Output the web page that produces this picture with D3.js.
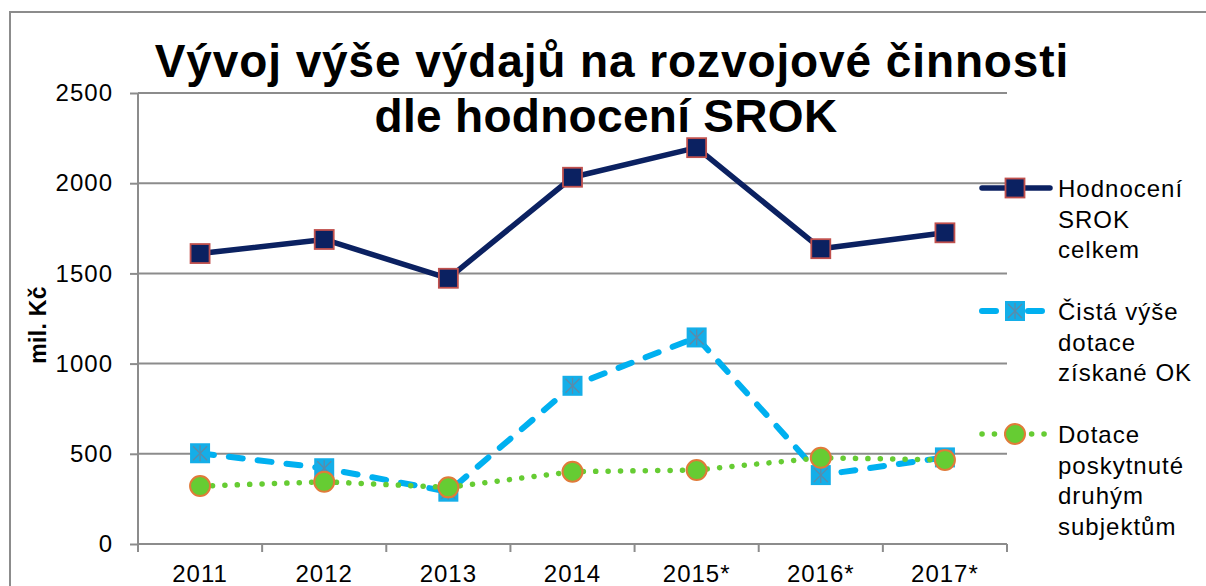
<!DOCTYPE html>
<html>
<head>
<meta charset="utf-8">
<script src="https://cdn.jsdelivr.net/npm/d3@7"></script>
<style>
  body { margin: 0; background: #fff; }
  svg { display: block; font-family: "Liberation Sans", Arial, sans-serif; }
</style>
</head>
<body>
<svg id="chart"></svg>
<script>
// data
const years = ["2011", "2012", "2013", "2014", "2015*", "2016*", "2017*"];
const srokCelkem = [1610, 1688, 1473, 2033, 2197, 1637, 1725];
const cistaDotace = [503, 420, 290, 877, 1145, 382, 480];
const dotaceDruhym = [321, 345, 314, 401, 410, 478, 466];
const yTicks = [0, 500, 1000, 1500, 2000, 2500];
const titleLines = ["Vývoj výše výdajů na rozvojové činnosti", "dle hodnocení SROK"];
const yTitle = "mil. Kč";
const legendLabels = [
  ["Hodnocení", "SROK", "celkem"],
  ["Čistá výše", "dotace", "získané OK"],
  ["Dotace", "poskytnuté", "druhým", "subjektům"]
];

const W = 1206, H = 586;
const margin = { top: 93, right: 199, bottom: 42, left: 138 };
const gridColor = "#8c8c8c";
const labelFont = "Liberation Sans, Arial, sans-serif";

const svg = d3.select("#chart").attr("width", W).attr("height", H);

// outer frame (runs off the right and bottom)
svg.append("rect")
  .attr("x", 10).attr("y", 12)
  .attr("width", W).attr("height", H)
  .attr("fill", "none").attr("stroke", gridColor).attr("stroke-width", 2);

const x = d3.scaleBand().domain(years).range([margin.left, W - margin.right]).padding(0);
const y = d3.scaleLinear().domain([0, 2500]).range([H - margin.bottom, margin.top]);
const cx = d => x(d) + x.bandwidth() / 2;

// gridlines
svg.append("g").selectAll("line").data(yTicks).join("line")
  .attr("x1", margin.left).attr("x2", W - margin.right)
  .attr("y1", d => y(d)).attr("y2", d => y(d))
  .attr("stroke", gridColor).attr("stroke-width", 2);

// y axis
const yAxis = svg.append("g")
  .attr("transform", `translate(${margin.left},0)`)
  .call(d3.axisLeft(y).tickValues(yTicks).tickFormat(d3.format("d")).tickSize(8).tickPadding(17));
yAxis.attr("font-family", labelFont);
yAxis.select(".domain").remove();
yAxis.selectAll(".tick line").attr("stroke", gridColor).attr("stroke-width", 2);
yAxis.selectAll(".tick text").attr("font-size", 24).attr("letter-spacing", 1).attr("fill", "#000");
svg.append("line")
  .attr("x1", margin.left).attr("x2", margin.left)
  .attr("y1", y(2500)).attr("y2", y(0) + 8)
  .attr("stroke", gridColor).attr("stroke-width", 2);

// x axis: labels at centres, ticks at band edges
const xAxis = svg.append("g")
  .attr("transform", `translate(0,${y(0)})`)
  .call(d3.axisBottom(x).tickSize(0).tickPadding(21));
xAxis.attr("font-family", labelFont);
xAxis.select(".domain").remove();
xAxis.selectAll(".tick text").attr("font-size", 24).attr("letter-spacing", 1).attr("fill", "#000");
const edges = years.map(d => x(d)).concat([x.range()[1]]);
svg.append("g").selectAll("line").data(edges).join("line")
  .attr("x1", d => d).attr("x2", d => d)
  .attr("y1", y(0)).attr("y2", y(0) + 8)
  .attr("stroke", gridColor).attr("stroke-width", 2);

// title
const titleX = [612, 606];
const titleSpacing = [0.9, 0.3];
svg.append("g").selectAll("text").data(titleLines).join("text")
  .attr("x", (d, i) => titleX[i]).attr("y", (d, i) => 77 + i * 55)
  .attr("text-anchor", "middle")
  .attr("font-size", 46).attr("font-weight", "bold")
  .attr("letter-spacing", (d, i) => titleSpacing[i])
  .text(d => d);

// y title
svg.append("text")
  .attr("transform", "translate(46,325) rotate(-90)")
  .attr("text-anchor", "middle")
  .attr("font-size", 23).attr("font-weight", "bold").attr("letter-spacing", 0.3)
  .text(yTitle);

const line = d3.line().x((d, i) => cx(years[i])).y(d => y(d));

const series = [
  { values: srokCelkem, color: "#0b2161", width: 5.5, dash: null, marker: "square" },
  { values: cistaDotace, color: "#00b0f0", width: 6, dash: "14,15", marker: "xsquare" },
  { values: dotaceDruhym, color: "#66cc33", width: 5.5, dash: "0.1,12.3", marker: "circle" }
];

function drawMarker(g, type, px, py) {
  if (type === "square") {
    g.append("rect").attr("x", px - 9.5).attr("y", py - 9.5).attr("width", 19).attr("height", 19)
      .attr("fill", "#0b2161").attr("stroke", "#c0504d").attr("stroke-width", 1.8);
  } else if (type === "xsquare") {
    g.append("rect").attr("x", px - 10).attr("y", py - 10).attr("width", 20).attr("height", 20)
      .attr("fill", "#14aee8");
    const s = 7;
    [[-s, -s, s, s], [-s, s, s, -s], [0, -s - 1, 0, s + 1]].forEach(l => {
      g.append("line").attr("x1", px + l[0]).attr("y1", py + l[1]).attr("x2", px + l[2]).attr("y2", py + l[3])
        .attr("stroke", "#5d8aa8").attr("stroke-width", 1.3);
    });
  } else {
    g.append("circle").attr("cx", px).attr("cy", py).attr("r", 10)
      .attr("fill", "#66cc33").attr("stroke", "#e07b39").attr("stroke-width", 2);
  }
}

series.forEach(s => {
  const g = svg.append("g");
  g.append("path").attr("d", line(s.values))
    .attr("fill", "none").attr("stroke", s.color).attr("stroke-width", s.width)
    .attr("stroke-linecap", "round").attr("stroke-linejoin", "round")
    .attr("stroke-dasharray", s.dash);
  s.values.forEach((v, i) => drawMarker(g, s.marker, cx(years[i]), y(v)));
});

// legend
const legendY = [188, 311, 434];
const legendEnd = [1050, 1043, 1045];
series.forEach((s, i) => {
  const g = svg.append("g");
  const ly = legendY[i];
  g.append("line").attr("x1", 982).attr("x2", legendEnd[i]).attr("y1", ly).attr("y2", ly)
    .attr("stroke", s.color).attr("stroke-width", s.width)
    .attr("stroke-linecap", "round").attr("stroke-dasharray", s.marker === "xsquare" ? "14,32" : s.dash);
  drawMarker(g, s.marker, 1015, ly);
  g.selectAll("text").data(legendLabels[i]).join("text")
    .attr("x", 1058).attr("y", (d, j) => ly + 9 + j * 30.5)
    .attr("font-size", 24).attr("letter-spacing", 1).text(d => d);
});
</script>
</body>
</html>
